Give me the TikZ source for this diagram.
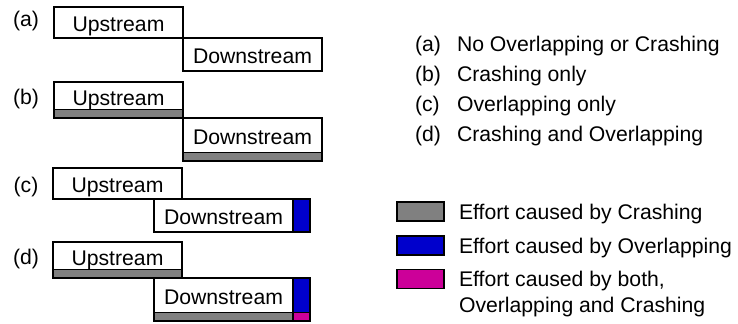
\documentclass[tikz,border=0pt]{standalone}
\usepackage{fontspec}
\setmainfont{Liberation Sans}
\usetikzlibrary{positioning}
\definecolor{crashgray}{RGB}{128,128,128}
\definecolor{overlapblue}{RGB}{0,0,204}
\definecolor{bothpink}{RGB}{204,0,153}
\tikzset{
    every node/.style={inner sep=0pt, outer sep=0pt}, % so that boxes touch each other
    task/.style={draw, line width=0.9pt, fill=white, text height=9.5pt, text depth=0pt}, % an activity box
    upbox/.style={task, minimum width=64.5pt, minimum height=15.5pt},
    downbox/.style={task, minimum width=69.5pt, minimum height=16.5pt},
    crashbar/.style={draw, line width=0.9pt, fill=crashgray, minimum height=4.25pt}, % extra effort from crashing
    overlapbar/.style={draw, line width=0.9pt, fill=overlapblue, minimum width=8.5pt}, % extra effort from overlapping
    bothbar/.style={draw, line width=0.9pt, fill=bothpink, minimum width=8.5pt, minimum height=4.25pt},
    key/.style={draw, line width=0.7pt, minimum width=23.5pt, minimum height=9.5pt}, % legend swatch
    legtext/.style={text height=7.6pt, text depth=0pt},
}
\begin{document}
\begin{tikzpicture}[x=0.5pt, y=-0.5pt, font=\fontsize{10.6}{13}\selectfont]
\useasboundingbox (0,0) rectangle (738,324);
% (a)
\node[legtext, anchor=base] (taga) at (26,27) {(a)};
\node[upbox, anchor=north west] (upa) at (54,7) {Upstream};
\node[downbox, below right=0pt and 0pt of upa] (downa) {Downstream};
% (b)
\node[legtext, anchor=base] (tagb) at (26,105) {(b)};
\node[upbox, minimum height=13.75pt, anchor=north west] (upb) at (54,82) {Upstream};
\node[crashbar, minimum width=64.5pt, below=0pt of upb] (crashupb) {};
\node[downbox, minimum height=17.25pt, below right=0pt and 0pt of crashupb] (downb) {Downstream};
\node[crashbar, minimum width=69.5pt, below=0pt of downb] (crashdownb) {};
% (c)
\node[legtext, anchor=base] (tagc) at (26,193) {(c)};
\node[upbox, anchor=north west] (upc) at (53,168) {Upstream};
\node[downbox, below right=0pt and -14pt of upc] (downc) {Downstream};
\node[overlapbar, minimum height=16.5pt, right=0pt of downc] (overlapc) {};
% (d)
\node[legtext, anchor=base] (tagd) at (26,265) {(d)};
\node[upbox, minimum height=13.75pt, anchor=north west] (upd) at (53,242) {Upstream};
\node[crashbar, minimum width=64.5pt, below=0pt of upd] (crashupd) {};
\node[downbox, minimum height=17.25pt, below right=0pt and -14pt of crashupd] (downd) {Downstream};
\node[crashbar, minimum width=69.5pt, below=0pt of downd] (crashdownd) {};
\node[overlapbar, minimum height=17.25pt, right=0pt of downd] (overlapd) {};
\node[bothbar, below=0pt of overlapd] (bothd) {};
% legend of cases
\node[legtext, anchor=base west] (casea) at (415,52) {(a)};
\node[legtext, anchor=base west] at (457,52) {No Overlapping or Crashing};
\node[legtext, anchor=base west] (caseb) at (415,82) {(b)};
\node[legtext, anchor=base west] at (457,82) {Crashing only};
\node[legtext, anchor=base west] (casec) at (415,112) {(c)};
\node[legtext, anchor=base west] at (457,112) {Overlapping only};
\node[legtext, anchor=base west] (cased) at (415,142) {(d)};
\node[legtext, anchor=base west] at (457,142) {Crashing and Overlapping};
% legend of colours
\node[key, fill=crashgray] (keycrash) at (420.5,211.5) {};
\node[legtext, right=7.5pt of keycrash] (textcrash) {Effort caused by Crashing};
\node[key, fill=overlapblue] (keyoverlap) at (420.5,245.5) {};
\node[legtext, right=7.5pt of keyoverlap] (textoverlap) {Effort caused by Overlapping};
\node[key, fill=bothpink] (keyboth) at (420.5,279) {};
\node[legtext, right=7.5pt of keyboth] (textboth) {Effort caused by both,};
\node[legtext, anchor=base west] (textboth2) at ([yshift=-13pt]textboth.base west) {Overlapping and Crashing};
\end{tikzpicture}
\end{document}
